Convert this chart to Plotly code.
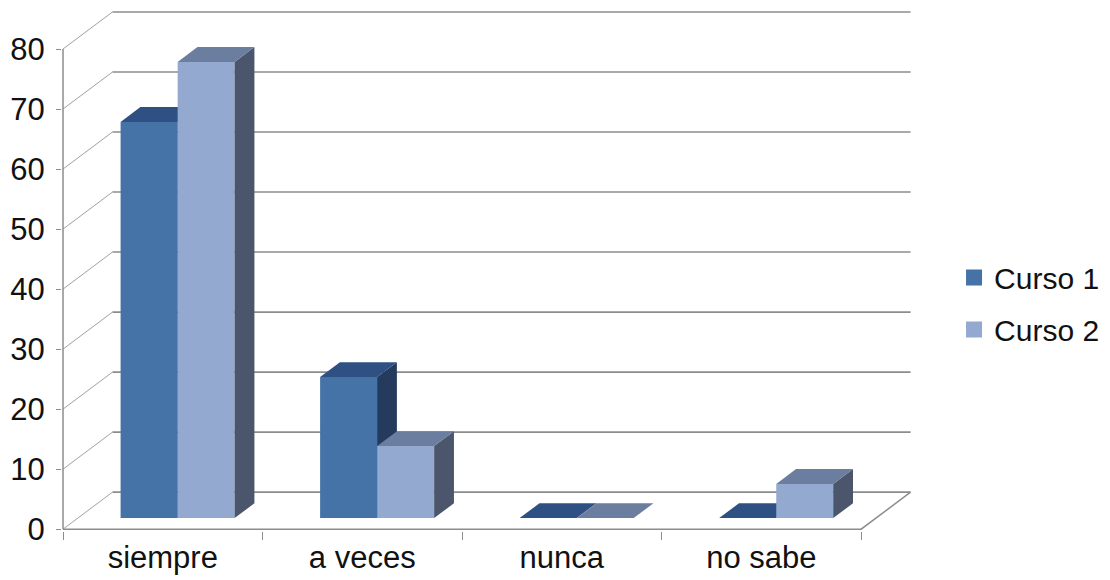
import plotly.graph_objects as go

# ---------------- data ----------------
categories = ["siempre", "a veces", "nunca", "no sabe"]
curso1 = [66, 23.5, 0, 0]
curso2 = [76, 12, 0, 5.7]
series_names = ["Curso 1", "Curso 2"]
y_ticks = [0, 10, 20, 30, 40, 50, 60, 70, 80]

# ---------------- styling / projection ----------------
FONT = "Liberation Sans, Arial, sans-serif"
DX = 0.248      # full-depth shift along x (x units)
DY = 6.17       # full-depth shift along y (value units)
D_FRONT = 0.30  # depth at which bar fronts sit
D_BAR = 0.40    # depth of the bars
BAR_W = 0.2855
OFFS = [-0.143, 0.143]
COLORS = [
    dict(front="#4572A7", top="#2E5083", side="#243B5E"),
    dict(front="#93A9CF", top="#6B7EA0", side="#4B566C"),
]
GRID = "#8C8C8C"
TXT = "#111111"
YMAX = max(y_ticks)
NCAT = len(categories)

XR = [-0.005, 4.25]
YR = [-0.3, 86.5]

fig = go.Figure()

# ---- walls / grid (subplot 1) ----
gx, gy = [], []
for v in y_ticks:
    gx += [DX, NCAT + DX, None]
    gy += [v + DY, v + DY, None]
fig.add_trace(go.Scatter(x=gx, y=gy, mode="lines", line=dict(color=GRID, width=1.6),
                         showlegend=False, hoverinfo="skip"))
dx_, dy_ = [], []
for v in y_ticks:
    dx_ += [0, DX, None]
    dy_ += [v, v + DY, None]
fig.add_trace(go.Scatter(x=dx_, y=dy_, mode="lines", line=dict(color="#A0A0A0", width=1),
                         showlegend=False, hoverinfo="skip"))
# front axis, floor front edge, floor right edge
fig.add_trace(go.Scatter(x=[0, 0, None, 0, NCAT, NCAT + DX],
                         y=[0, YMAX, None, 0, 0, DY],
                         mode="lines", line=dict(color=GRID, width=1.5),
                         showlegend=False, hoverinfo="skip"))

# legend entries
for k, name in enumerate(series_names):
    fig.add_trace(go.Scatter(x=[None], y=[None], mode="markers", name=name,
                             legendgroup=name,
                             marker=dict(symbol="square", size=16, color=COLORS[k]["front"]),
                             hoverinfo="skip"))

# ---- bars: each series in its own overlaid subplot so that later series occlude ----
base = D_FRONT * DY
ddx, ddy = D_BAR * DX, D_BAR * DY
for k, vals in enumerate([curso1, curso2]):
    xa, ya = ("x2", "y2") if k == 0 else ("x3", "y3")
    centers = [i + 0.5 + OFFS[k] + D_FRONT * DX for i in range(NCAT)]
    fig.add_trace(go.Bar(x=centers, y=vals, base=base, width=BAR_W,
                         marker=dict(color=COLORS[k]["front"], line=dict(width=0)),
                         showlegend=False, xaxis=xa, yaxis=ya, hoverinfo="skip"))
    tx, ty, sx, sy = [], [], [], []
    for c, v in zip(centers, vals):
        xl = c - BAR_W / 2
        xr = c + BAR_W / 2
        top = base + v
        tx += [xl, xr, xr + ddx, xl + ddx, xl, None]
        ty += [top, top, top + ddy, top + ddy, top, None]
        if v > 0:
            sx += [xr, xr + ddx, xr + ddx, xr, xr, None]
            sy += [base, base + ddy, top + ddy, top, base, None]
    fig.add_trace(go.Scatter(x=sx, y=sy, mode="lines", fill="toself",
                             fillcolor=COLORS[k]["side"], line=dict(width=0),
                             showlegend=False, xaxis=xa, yaxis=ya, hoverinfo="skip"))
    fig.add_trace(go.Scatter(x=tx, y=ty, mode="lines", fill="toself",
                             fillcolor=COLORS[k]["top"], line=dict(width=0),
                             showlegend=False, xaxis=xa, yaxis=ya, hoverinfo="skip"))

hidden_x = dict(range=XR, visible=False, fixedrange=True)
hidden_y = dict(range=YR, visible=False, fixedrange=True)

# the page body has an 8px margin, so the figure is sized to fit the 1110x580 window
fig.update_layout(
    width=1102, height=572,
    margin=dict(l=54, r=199, t=2, b=49, autoexpand=False),
    paper_bgcolor="white", plot_bgcolor="white",
    barmode="overlay",
    font=dict(family=FONT, size=31, color=TXT),
    xaxis=dict(range=XR, tickvals=[i + 0.5 for i in range(NCAT)], ticktext=categories,
               ticks="", showgrid=False, zeroline=False, showline=False,
               ticklabelstandoff=5,
               tickfont=dict(size=31, family=FONT, color=TXT),
               minor=dict(tickvals=list(range(NCAT + 1)), ticks="outside", ticklen=8,
                          tickcolor=GRID, tickwidth=1.3, showgrid=False),
               automargin=False, fixedrange=True),
    yaxis=dict(range=YR, tickvals=y_ticks, ticks="outside", ticklen=5, tickcolor=GRID,
               tickwidth=1.3, showgrid=False, zeroline=False, showline=False,
               ticklabelstandoff=5,
               tickfont=dict(size=31, family=FONT, color=TXT),
               automargin=False, fixedrange=True),
    xaxis2=dict(overlaying="x", anchor="y2", **hidden_x),
    yaxis2=dict(overlaying="y", anchor="x2", **hidden_y),
    xaxis3=dict(overlaying="x", anchor="y3", **hidden_x),
    yaxis3=dict(overlaying="y", anchor="x3", **hidden_y),
    legend=dict(x=1.0507, xanchor="left", y=0.4367, yanchor="middle",
                font=dict(size=30, family=FONT, color=TXT),
                bgcolor="rgba(0,0,0,0)", traceorder="grouped", tracegroupgap=10,
                itemclick=False, itemdoubleclick=False),
    showlegend=True,
)

fig.write_html("out.html")
